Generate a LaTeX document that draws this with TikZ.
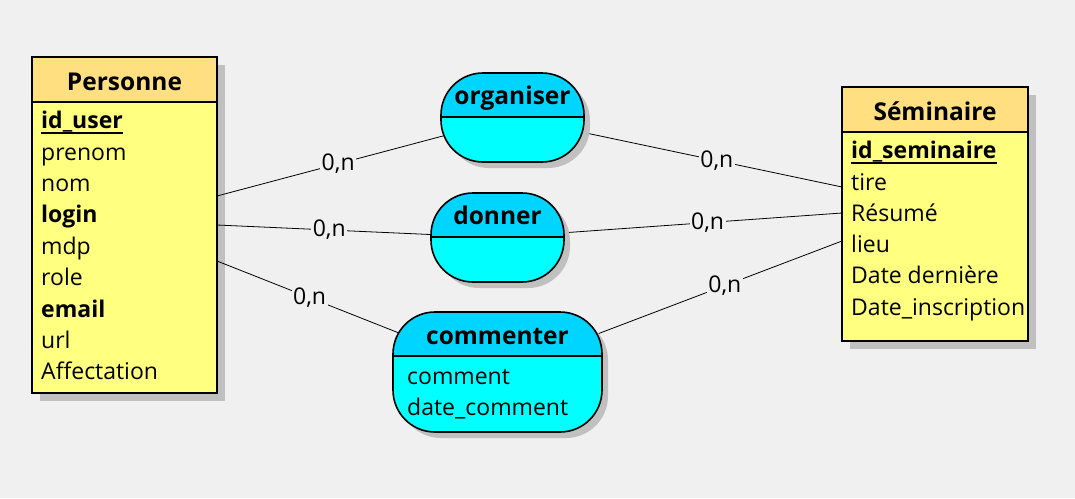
\documentclass[tikz,border=0pt]{standalone}
\usepackage{fontspec}
\setmainfont{Open Sans}
\usetikzlibrary{shadows}

\definecolor{pagegray}{HTML}{F0F0F0}
\definecolor{shadegray}{HTML}{C0C0C0}
\definecolor{enthead}{HTML}{FFDF80}
\definecolor{entbody}{HTML}{FFFF80}
\definecolor{assohead}{HTML}{00D5FF}
\definecolor{assobody}{HTML}{00FFFF}

\begin{document}
\begin{tikzpicture}[x=1pt,y=-1pt,
entity/.style={draw=black, line width=1.6pt, fill=entbody, anchor=north west,
  inner sep=0pt, outer sep=0pt,
  drop shadow={shadow xshift=8pt, shadow yshift=-8pt, fill=shadegray, opacity=1},
  path picture={
    \fill[enthead] ([shift={(-3pt,3pt)}]path picture bounding box.north west) rectangle ([shift={(3pt,-45pt)}]path picture bounding box.north east);
    \draw[line width=1.6pt] ([shift={(-3pt,-45pt)}]path picture bounding box.north west) -- ([shift={(3pt,-45pt)}]path picture bounding box.north east);}},
asso/.style={draw=black, line width=1.6pt, fill=assobody, rounded corners=42pt,
  inner sep=0pt, outer sep=0pt,
  drop shadow={shadow xshift=6pt, shadow yshift=-6pt, fill=shadegray, opacity=1},
  path picture={
    \fill[assohead, sharp corners] ([shift={(-3pt,3pt)}]path picture bounding box.north west) rectangle ([shift={(3pt,-44pt)}]path picture bounding box.north east);
    \draw[line width=1.6pt, sharp corners] ([shift={(-3pt,-44pt)}]path picture bounding box.north west) -- ([shift={(3pt,-44pt)}]path picture bounding box.north east);}},
title/.style={anchor=base, inner sep=0pt, font=\fontsize{24.5}{29}\selectfont\bfseries},
attr/.style={anchor=base west, inner sep=0pt, font=\fontsize{23}{28}\selectfont},
keyline/.style={line width=1.8pt},
link/.style={draw=black, line width=0.8pt},
card/.style={fill=pagegray, inner sep=1.5pt, font=\fontsize{23}{28}\selectfont},
]
\path[use as bounding box, fill=pagegray] (0,0) rectangle (1075,498);

% centres des associations
\coordinate (orgc) at (512.5,117.5);
\coordinate (donc) at (497.5,237.5);
\coordinate (comc) at (497.5,372);

% entite Personne
\node[entity, minimum width=185pt, minimum height=336pt] (pers) at (32,57) {};
\node[title] (perst) at (124.5,90) {Personne};
\node[attr] (uid)   at (41,128.6) {\textbf{id\_user}};
\node[attr] (upre)  at (41,160)   {prenom};
\node[attr] (unom)  at (41,191.4) {nom};
\node[attr] (ulog)  at (41,222.8) {\textbf{login}};
\node[attr] (umdp)  at (41,254.2) {mdp};
\node[attr] (urole) at (41,285.6) {role};
\node[attr] (umail) at (41,317)   {\textbf{email}};
\node[attr] (uurl)  at (41,348.4) {url};
\node[attr] (uaff)  at (41,379.8) {Affectation};
\draw[keyline] ([yshift=-4pt]uid.base west) -- ([yshift=-4pt]uid.base east);

% entite Seminaire
\node[entity, minimum width=186pt, minimum height=254pt] (sem) at (842,87) {};
\node[title] (semt) at (935,120) {Séminaire};
\node[attr] (sid)   at (851,158.8) {\textbf{id\_seminaire}};
\node[attr] (stire) at (851,190)   {tire};
\node[attr] (sres)  at (851,221.3) {Résumé};
\node[attr] (slieu) at (851,252.5) {lieu};
\node[attr] (sder)  at (851,283.8) {Date dernière};
\node[attr] (sins)  at (851,315)   {Date\_inscription};
\draw[keyline] ([yshift=-4pt]sid.base west) -- ([yshift=-4pt]sid.base east);

% liens
\draw[link] ([yshift=-139pt]pers.north east) -- node[card, pos=0.41] {0,n} (orgc);
\draw[link] ([yshift=-168pt]pers.north east) -- node[card, pos=0.40] {0,n} (donc);
\draw[link] ([yshift=-204pt]pers.north east) -- node[card, pos=0.33] {0,n} (comc);
\draw[link] (orgc) -- node[card, pos=0.62] {0,n} ([yshift=-100pt]sem.north west);
\draw[link] (donc) -- node[card, pos=0.61] {0,n} ([yshift=-126pt]sem.north west);
\draw[link] (comc) -- node[card, pos=0.66] {0,n} ([yshift=-154pt]sem.north west);

% associations
\node[asso, minimum width=143pt, minimum height=89pt] (org) at (orgc) {};
\node[title] (orgt) at (512.5,104) {organiser};
\node[asso, minimum width=133pt, minimum height=89pt] (don) at (donc) {};
\node[title] (dont) at (497.5,224) {donner};
\node[asso, minimum width=209pt, minimum height=120pt] (com) at (comc) {};
\node[title] (comt) at (497.5,344) {commenter};
\node[attr] (ccom)  at (407,384) {comment};
\node[attr] (cdate) at (407,415) {date\_comment};
\end{tikzpicture}
\end{document}
